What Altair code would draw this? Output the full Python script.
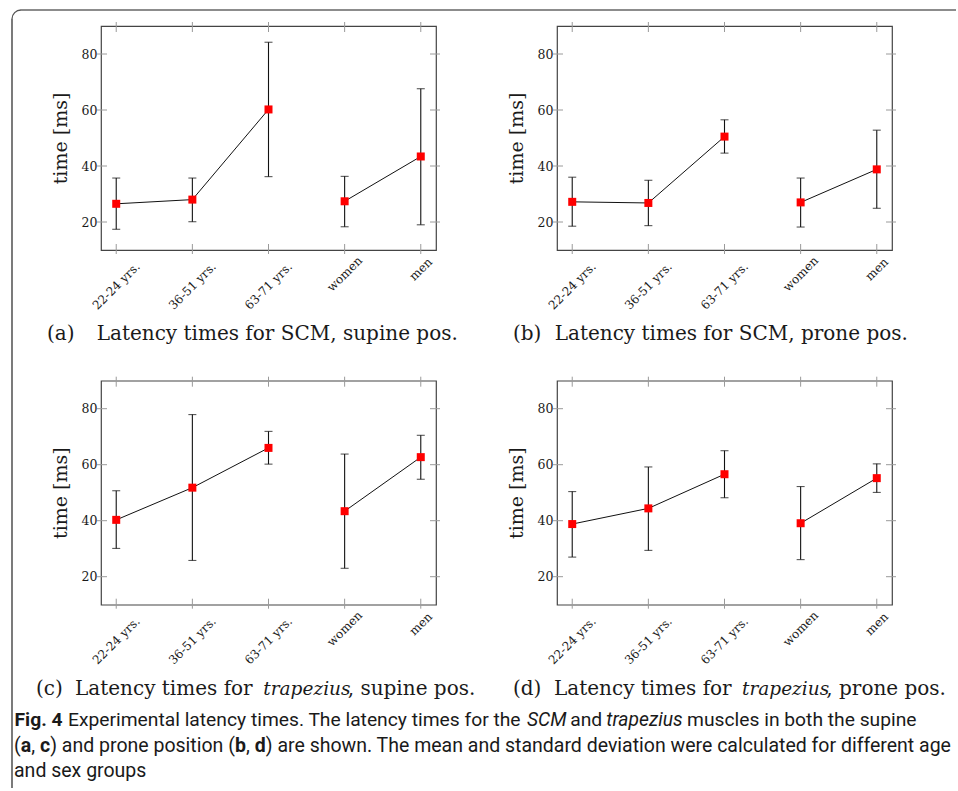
import altair as alt
import pandas as pd

categories = ["22-24 yrs.", "36-51 yrs.", "63-71 yrs.", "women", "men"]
groups = ["age", "age", "age", "sex", "sex"]
y_ticks = [20, 40, 60, 80]

a_mean = [26.5, 28.0, 60.2, 27.4, 43.4]
a_low = [17.4, 20.1, 36.2, 18.3, 19.0]
a_high = [35.7, 35.7, 84.2, 36.3, 67.6]

b_mean = [27.2, 26.8, 50.5, 27.0, 38.8]
b_low = [18.5, 18.7, 44.6, 18.2, 24.9]
b_high = [36.0, 34.9, 56.5, 35.7, 52.8]

c_mean = [40.3, 51.8, 66.0, 43.4, 62.7]
c_low = [30.1, 25.8, 60.2, 23.0, 54.8]
c_high = [50.7, 77.9, 71.9, 63.8, 70.5]

d_mean = [38.8, 44.4, 56.6, 39.1, 55.2]
d_low = [27.0, 29.4, 48.2, 26.1, 50.1]
d_high = [50.4, 59.2, 65.0, 52.2, 60.3]

sub_a = ["(a)", "Latency times for SCM, supine pos."]
sub_b = ["(b)", "Latency times for SCM, prone pos."]
sub_c = ["(c)", "Latency times for", "trapezius", ", supine pos."]
sub_d = ["(d)", "Latency times for", "trapezius", ", prone pos."]

cap1 = ["Fig. 4", "Experimental latency times. The latency times for the", "SCM", "and",
        "trapezius", "muscles in both the supine"]
cap2 = ["(", "a", ",", "c", ") and prone position (", "b", ",", "d",
        ") are shown. The mean and standard deviation were calculated for different age"]
cap3 = ["and sex groups"]

SERIF = "DejaVu Serif"
SANS = "Roboto"
W, H = 335, 224
TXT = "#1a1a1a"


def text_layer(txt, x, y, size, font, weight="normal", style="normal"):
    return alt.Chart(pd.DataFrame({"t": [txt]})).mark_text(
        align="left", baseline="alphabetic", font=font, fontSize=size,
        fontWeight=weight, fontStyle=style, color=TXT
    ).encode(x=alt.value(x), y=alt.value(y), text="t:N")


def panel(mean, low, high, extra):
    df = pd.DataFrame(dict(cat=categories, grp=groups, mean=mean, low=low, high=high))
    xenc = alt.X("cat:N", sort=categories, scale=alt.Scale(type="point", padding=0.2), axis=None)
    ysc = alt.Scale(domain=[10, 90], nice=False, zero=False)
    yaxis = alt.Axis(values=y_ticks, ticks=False, domain=False, grid=False,
                     labelFont=SERIF, labelFontSize=12.5, labelColor="#1a1a1a", labelPadding=4,
                     title="time [ms]", titleFont=SERIF, titleFontSize=19,
                     titleFontWeight="normal", titleColor=TXT, titleX=-41, titleY=H / 2,
                     titleAngle=270, titleAlign="center", titleBaseline="middle")
    base = alt.Chart(df)
    tdf = pd.DataFrame({"v": y_ticks})
    cdf = pd.DataFrame({"cat": categories})
    tick_style = dict(color="#9a9a9a", strokeWidth=1)
    yl = alt.Chart(tdf).mark_rule(**tick_style).encode(
        y=alt.Y("v:Q", scale=ysc, axis=yaxis), x=alt.value(-4), x2=alt.value(6))
    yr = alt.Chart(tdf).mark_rule(**tick_style).encode(
        y=alt.Y("v:Q", scale=ysc, axis=yaxis), x=alt.value(W - 6), x2=alt.value(W + 4))
    xt = alt.Chart(cdf).mark_rule(**tick_style).encode(
        x=xenc, y=alt.value(-4), y2=alt.value(6))
    xb = alt.Chart(cdf).mark_rule(**tick_style).encode(
        x=xenc, y=alt.value(H - 6), y2=alt.value(H + 4))
    bars = base.mark_rule(color="#111", strokeWidth=1.1).encode(
        x=xenc, y=alt.Y("low:Q", scale=ysc, axis=yaxis), y2="high:Q")
    cap_lo = base.mark_tick(orient="horizontal", size=8, thickness=1.1, color="#111").encode(
        x=xenc, y=alt.Y("low:Q", scale=ysc, axis=yaxis))
    cap_hi = base.mark_tick(orient="horizontal", size=8, thickness=1.1, color="#111").encode(
        x=xenc, y=alt.Y("high:Q", scale=ysc, axis=yaxis))
    line = base.mark_line(color="#111", strokeWidth=1).encode(
        x=xenc, y=alt.Y("mean:Q", scale=ysc, axis=yaxis), detail="grp:N")
    pts = base.mark_square(color="#ff0000", size=64, opacity=1).encode(
        x=xenc, y=alt.Y("mean:Q", scale=ysc, axis=yaxis))
    xlab = alt.Chart(cdf).mark_text(angle=315, align="center", baseline="middle",
                                    font=SERIF, fontSize=12, color="#1a1a1a").encode(
        x=xenc, y=alt.value({"expr": f"{H} + 12 + 2.4*length(datum.cat)"}), text="cat:N")
    return alt.layer(yl, yr, xt, xb, bars, cap_lo, cap_hi, line, pts, xlab, *extra).properties(
        width=W, height=H)


one = pd.DataFrame({"k": [0]})
R = 9
frame = [
    alt.Chart(one).mark_rule(color="#666", strokeWidth=1.3).encode(
        x=alt.value(-89 + R), x2=alt.value(855), y=alt.value(-16)),
    alt.Chart(one).mark_rule(color="#333", strokeWidth=1.3).encode(
        x=alt.value(-89), y=alt.value(-16 + R), y2=alt.value(762)),
    alt.Chart(one).mark_arc(filled=False, stroke="#555", strokeWidth=1.3).encode(
        x=alt.value(-89 + R), y=alt.value(-16 + R), radius=alt.value(R), radius2=alt.value(R),
        theta=alt.value(4.7124), theta2=alt.value(6.2832)),
]

C1 = 19.25
C2 = 19.5
caption = [
    text_layer(cap1[0], -86.5, 700, C1, SANS, weight="bold"),
    text_layer(cap1[1], -33, 700, C1, SANS),
    text_layer(cap1[2], 425.9, 700, C1, SANS, style="italic"),
    text_layer(cap1[3], 469.2, 700, C1, SANS),
    text_layer(cap1[4], 505.3, 700, C1, SANS, style="italic"),
    text_layer(cap1[5], 586.1, 700, C1, SANS),
    text_layer(cap2[0], -87, 726, C2, SANS),
    text_layer(cap2[1], -80.3, 726, C2, SANS, weight="bold"),
    text_layer(cap2[2], -69.8, 726, C2, SANS),
    text_layer(cap2[3], -61, 726, C2, SANS, weight="bold"),
    text_layer(cap2[4], -50.8, 726, C2, SANS),
    text_layer(cap2[5], 134, 726, C2, SANS, weight="bold"),
    text_layer(cap2[6], 145, 726, C2, SANS),
    text_layer(cap2[7], 153.8, 726, C2, SANS, weight="bold"),
    text_layer(cap2[8], 164.8, 726, C2, SANS),
    text_layer(cap3[0], -87, 751, C2, SANS),
]

SS = 20
IS = 18.5
ta = [text_layer(sub_a[0], -54, 314, SS, SERIF), text_layer(sub_a[1], -4.3, 314, SS, SERIF)]
tb = [text_layer(sub_b[0], -44, 314, SS, SERIF), text_layer(sub_b[1], -2.3, 314, SS, SERIF)]
tc = [text_layer(sub_c[0], -65, 314, SS, SERIF), text_layer(sub_c[1], -26, 314, SS, SERIF),
      text_layer(sub_c[2], 162.3, 314, IS, SERIF, style="italic"),
      text_layer(sub_c[3], 246.7, 314, SS, SERIF)]
td = [text_layer(sub_d[0], -44, 314, SS, SERIF), text_layer(sub_d[1], -3, 314, SS, SERIF),
      text_layer(sub_d[2], 185, 314, IS, SERIF, style="italic"),
      text_layer(sub_d[3], 269.3, 314, SS, SERIF)]

p_a = panel(a_mean, a_low, a_high, frame + caption + ta)
p_b = panel(b_mean, b_low, b_high, tb)
p_c = panel(c_mean, c_low, c_high, tc)
p_d = panel(d_mean, d_low, d_high, td)

chart = alt.concat(p_a, p_b, p_c, p_d, columns=2,
                   spacing={"row": 130.7, "column": 121}, bounds="flush").properties(
    padding={"left": 8, "top": 6, "right": 0, "bottom": 0}, background="white"
).configure_view(stroke="#444", strokeWidth=1.2)

chart.save("out.html", embed_options={"renderer": "svg", "actions": False})
